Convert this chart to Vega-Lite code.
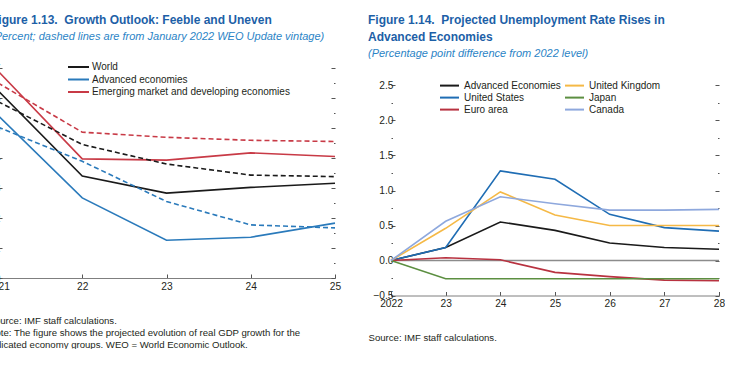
{
  "$schema": "https://vega.github.io/schema/vega-lite/v6.json",
  "padding": {"left": -14, "top": 14, "right": 0, "bottom": 0},
  "background": "white",
  "bounds": "flush",
  "spacing": 56,
  "resolve": {"scale": {"color": "independent"}, "legend": {"color": "independent"}},
  "config": {
    "font": "Liberation Sans",
    "view": {"stroke": null},
    "axis": {
      "labelFont": "Liberation Sans", "labelFontSize": 10.2, "labelColor": "#231f20",
      "grid": false,
      "titleFont": "Liberation Sans", "titleFontSize": 9.6, "titleFontWeight": "normal", "titleColor": "#231f20",
      "tickColor": "#555555", "domainColor": "#7f7f7f"
    },
    "legend": {"labelFont": "Liberation Sans", "labelFontSize": 10, "labelColor": "#231f20", "padding": 0, "labelLimit": 300},
    "title": {
      "font": "Liberation Sans", "fontSize": 12, "fontWeight": "bold", "color": "#1d5fa7",
      "subtitleFont": "Liberation Sans", "subtitleFontSize": 11, "subtitleFontStyle": "italic", "subtitleColor": "#2b84c6",
      "anchor": "start", "frame": "group", "subtitlePadding": 4
    }
  },
  "hconcat": [
    {
      "width": 337,
      "height": 210,
      "title": {
        "text": "Figure 1.13.\u00a0 Growth Outlook: Feeble and Uneven",
        "subtitle": "(Percent; dashed lines are from January 2022 WEO Update vintage)",
        "dx": -7,
        "offset": 17.7
      },
      "data": {"values": [
        {"series": "World", "vintage": "Current", "year": 2021, "value": 6.25},
        {"series": "World", "vintage": "Current", "year": 2022, "value": 3.4},
        {"series": "World", "vintage": "Current", "year": 2023, "value": 2.83},
        {"series": "World", "vintage": "Current", "year": 2024, "value": 3.02},
        {"series": "World", "vintage": "Current", "year": 2025, "value": 3.16},
        {"series": "Advanced economies", "vintage": "Current", "year": 2021, "value": 5.42},
        {"series": "Advanced economies", "vintage": "Current", "year": 2022, "value": 2.67},
        {"series": "Advanced economies", "vintage": "Current", "year": 2023, "value": 1.26},
        {"series": "Advanced economies", "vintage": "Current", "year": 2024, "value": 1.36},
        {"series": "Advanced economies", "vintage": "Current", "year": 2025, "value": 1.83},
        {"series": "Emerging market and developing economies", "vintage": "Current", "year": 2021, "value": 6.9},
        {"series": "Emerging market and developing economies", "vintage": "Current", "year": 2022, "value": 3.97},
        {"series": "Emerging market and developing economies", "vintage": "Current", "year": 2023, "value": 3.93},
        {"series": "Emerging market and developing economies", "vintage": "Current", "year": 2024, "value": 4.17},
        {"series": "Emerging market and developing economies", "vintage": "Current", "year": 2025, "value": 4.05},
        {"series": "World", "vintage": "January 2022 WEO Update", "year": 2021, "value": 5.88},
        {"series": "World", "vintage": "January 2022 WEO Update", "year": 2022, "value": 4.45},
        {"series": "World", "vintage": "January 2022 WEO Update", "year": 2023, "value": 3.8},
        {"series": "World", "vintage": "January 2022 WEO Update", "year": 2024, "value": 3.43},
        {"series": "World", "vintage": "January 2022 WEO Update", "year": 2025, "value": 3.38},
        {"series": "Advanced economies", "vintage": "January 2022 WEO Update", "year": 2021, "value": 5.03},
        {"series": "Advanced economies", "vintage": "January 2022 WEO Update", "year": 2022, "value": 3.89},
        {"series": "Advanced economies", "vintage": "January 2022 WEO Update", "year": 2023, "value": 2.55},
        {"series": "Advanced economies", "vintage": "January 2022 WEO Update", "year": 2024, "value": 1.77},
        {"series": "Advanced economies", "vintage": "January 2022 WEO Update", "year": 2025, "value": 1.67},
        {"series": "Emerging market and developing economies", "vintage": "January 2022 WEO Update", "year": 2021, "value": 6.5},
        {"series": "Emerging market and developing economies", "vintage": "January 2022 WEO Update", "year": 2022, "value": 4.86},
        {"series": "Emerging market and developing economies", "vintage": "January 2022 WEO Update", "year": 2023, "value": 4.69},
        {"series": "Emerging market and developing economies", "vintage": "January 2022 WEO Update", "year": 2024, "value": 4.59},
        {"series": "Emerging market and developing economies", "vintage": "January 2022 WEO Update", "year": 2025, "value": 4.55}
      ]},
      "encoding": {
        "x": {
          "field": "year", "type": "quantitative",
          "scale": {"domain": [2021, 2025], "nice": false, "zero": false},
          "axis": {
            "values": [2021, 2022, 2023, 2024, 2025],
            "labelExpr": "datum.value == 2021 ? '2021' : slice(format(datum.value, 'd'), 2)",
            "labelFlush": false,
            "tickSize": -4, "labelPadding": 7, "domainWidth": 1,
            "title": [
              "Source: IMF staff calculations.",
              "Note: The figure shows the projected evolution of real GDP growth for the",
              "indicated economy groups. WEO = World Economic Outlook."
            ],
            "titleAlign": "left", "titleAnchor": "start", "titleX": -10, "titleY": 37, "titleBaseline": "top", "titleLineHeight": 12.2
          }
        },
        "color": {
          "field": "series", "type": "nominal",
          "scale": {
            "domain": ["World", "Advanced economies", "Emerging market and developing economies"],
            "range": ["#1a1a1a", "#2a7abb", "#c83a46"]
          },
          "legend": {
            "orient": "none", "legendX": 80, "legendY": -7, "title": null,
            "symbolType": "M-3.2,0H1", "symbolSize": 100, "symbolStrokeWidth": 2, "symbolDash": [1, 0],
            "labelOffset": 2, "rowPadding": 1.5
          }
        }
      },
      "layer": [
        {
          "transform": [{"filter": "datum.vintage == 'Current'"}],
          "mark": {"type": "line", "strokeWidth": 1.6},
          "encoding": {
            "y": {
              "field": "value", "type": "quantitative",
              "scale": {"domain": [0, 7], "nice": false},
              "axis": {
                "orient": "left", "title": null, "domain": false,
                "values": [0, 0.5, 1, 1.5, 2, 2.5, 3, 3.5, 4, 4.5, 5, 5.5, 6, 6.5, 7],
                "labelExpr": "datum.value % 1 == 0 ? format(datum.value, 'd') : ''",
                "tickSize": {"condition": {"test": "datum.value % 1 == 0", "value": -4}, "value": -1.5},
                "labelPadding": 2
              }
            }
          }
        },
        {
          "transform": [{"filter": "datum.vintage == 'January 2022 WEO Update'"}],
          "mark": {"type": "line", "strokeWidth": 1.6, "strokeDash": [5, 3]},
          "encoding": {
            "y": {
              "field": "value", "type": "quantitative",
              "axis": {
                "orient": "right", "title": null, "domain": false, "labels": false,
                "values": [0, 0.5, 1, 1.5, 2, 2.5, 3, 3.5, 4, 4.5, 5, 5.5, 6, 6.5, 7],
                "tickSize": {"condition": {"test": "datum.value % 1 == 0", "value": -4}, "value": -1.5}
              }
            }
          }
        }
      ],
      "resolve": {"axis": {"y": "independent"}}
    },
    {
      "width": 328,
      "height": 227.5,
      "title": {
        "text": ["Figure 1.14.\u00a0 Projected Unemployment Rate Rises in", "Advanced Economies"],
        "subtitle": "(Percentage point difference from 2022 level)",
        "dx": -23,
        "offset": 7.7,
        "lineHeight": 17
      },
      "layer": [
        {
          "data": {"values": [{"level": 0}]},
          "mark": {"type": "rule", "color": "#8c8c8c", "strokeWidth": 1.3},
          "encoding": {
            "y": {
              "field": "level", "type": "quantitative",
              "scale": {"domain": [-0.5, 2.75], "nice": false, "zero": false},
              "axis": {
                "orient": "left", "title": null, "domain": false,
                "values": [-0.5, -0.25, 0, 0.25, 0.5, 0.75, 1, 1.25, 1.5, 1.75, 2, 2.25, 2.5],
                "labelExpr": "(datum.value * 2) % 1 == 0 ? format(datum.value, '.1f') : ''",
                "tickSize": {"condition": {"test": "(datum.value * 2) % 1 == 0", "value": -4}, "value": -1.5},
                "labelPadding": 2
              }
            }
          }
        },
        {
          "data": {"values": [
            {"series": "Advanced Economies", "year": 2022, "value": 0},
            {"series": "Advanced Economies", "year": 2023, "value": 0.185},
            {"series": "Advanced Economies", "year": 2024, "value": 0.55},
            {"series": "Advanced Economies", "year": 2025, "value": 0.43},
            {"series": "Advanced Economies", "year": 2026, "value": 0.25},
            {"series": "Advanced Economies", "year": 2027, "value": 0.185},
            {"series": "Advanced Economies", "year": 2028, "value": 0.16},
            {"series": "United States", "year": 2022, "value": 0},
            {"series": "United States", "year": 2023, "value": 0.185},
            {"series": "United States", "year": 2024, "value": 1.28},
            {"series": "United States", "year": 2025, "value": 1.16},
            {"series": "United States", "year": 2026, "value": 0.66},
            {"series": "United States", "year": 2027, "value": 0.47},
            {"series": "United States", "year": 2028, "value": 0.42},
            {"series": "Euro area", "year": 2022, "value": 0},
            {"series": "Euro area", "year": 2023, "value": 0.04},
            {"series": "Euro area", "year": 2024, "value": 0.01},
            {"series": "Euro area", "year": 2025, "value": -0.17},
            {"series": "Euro area", "year": 2026, "value": -0.23},
            {"series": "Euro area", "year": 2027, "value": -0.28},
            {"series": "Euro area", "year": 2028, "value": -0.29},
            {"series": "United Kingdom", "year": 2022, "value": 0},
            {"series": "United Kingdom", "year": 2023, "value": 0.46},
            {"series": "United Kingdom", "year": 2024, "value": 0.98},
            {"series": "United Kingdom", "year": 2025, "value": 0.65},
            {"series": "United Kingdom", "year": 2026, "value": 0.5},
            {"series": "United Kingdom", "year": 2027, "value": 0.5},
            {"series": "United Kingdom", "year": 2028, "value": 0.5},
            {"series": "Japan", "year": 2022, "value": 0},
            {"series": "Japan", "year": 2023, "value": -0.26},
            {"series": "Japan", "year": 2024, "value": -0.26},
            {"series": "Japan", "year": 2025, "value": -0.26},
            {"series": "Japan", "year": 2026, "value": -0.26},
            {"series": "Japan", "year": 2027, "value": -0.26},
            {"series": "Japan", "year": 2028, "value": -0.26},
            {"series": "Canada", "year": 2022, "value": 0},
            {"series": "Canada", "year": 2023, "value": 0.56},
            {"series": "Canada", "year": 2024, "value": 0.91},
            {"series": "Canada", "year": 2025, "value": 0.81},
            {"series": "Canada", "year": 2026, "value": 0.72},
            {"series": "Canada", "year": 2027, "value": 0.72},
            {"series": "Canada", "year": 2028, "value": 0.73}
          ]},
          "mark": {"type": "line", "strokeWidth": 1.6},
          "encoding": {
            "x": {
              "field": "year", "type": "quantitative",
              "scale": {"domain": [2022, 2028], "nice": false, "zero": false},
              "axis": {
                "values": [2022, 2023, 2024, 2025, 2026, 2027, 2028],
                "labelExpr": "datum.value == 2022 ? '2022' : slice(format(datum.value, 'd'), 2)",
                "labelFlush": false,
                "tickSize": -4, "labelPadding": 7, "domainWidth": 1,
                "title": "Source: IMF staff calculations.",
                "titleAlign": "left", "titleAnchor": "start", "titleX": -23, "titleY": 37, "titleBaseline": "top"
              }
            },
            "y": {
              "field": "value", "type": "quantitative",
              "axis": {
                "orient": "right", "title": null, "domain": false, "labels": false,
                "values": [-0.5, -0.25, 0, 0.25, 0.5, 0.75, 1, 1.25, 1.5, 1.75, 2, 2.25, 2.5],
                "tickSize": {"condition": {"test": "(datum.value * 2) % 1 == 0", "value": -4}, "value": -1.5}
              }
            },
            "color": {
              "field": "series", "type": "nominal",
              "scale": {
                "domain": ["Advanced Economies", "United States", "Euro area", "United Kingdom", "Japan", "Canada"],
                "range": ["#1a1a1a", "#1f6db4", "#b83240", "#f5b946", "#5c8f41", "#8ea8dd"]
              },
              "legend": {
                "orient": "none", "legendX": 57, "legendY": 11.6, "title": null, "columns": 2,
                "symbolType": "M-2.8,0H1", "symbolSize": 100, "symbolStrokeWidth": 2,
                "labelOffset": 4, "rowPadding": 1, "columnPadding": 0
              }
            }
          }
        }
      ],
      "resolve": {"axis": {"y": "independent"}}
    }
  ]
}
